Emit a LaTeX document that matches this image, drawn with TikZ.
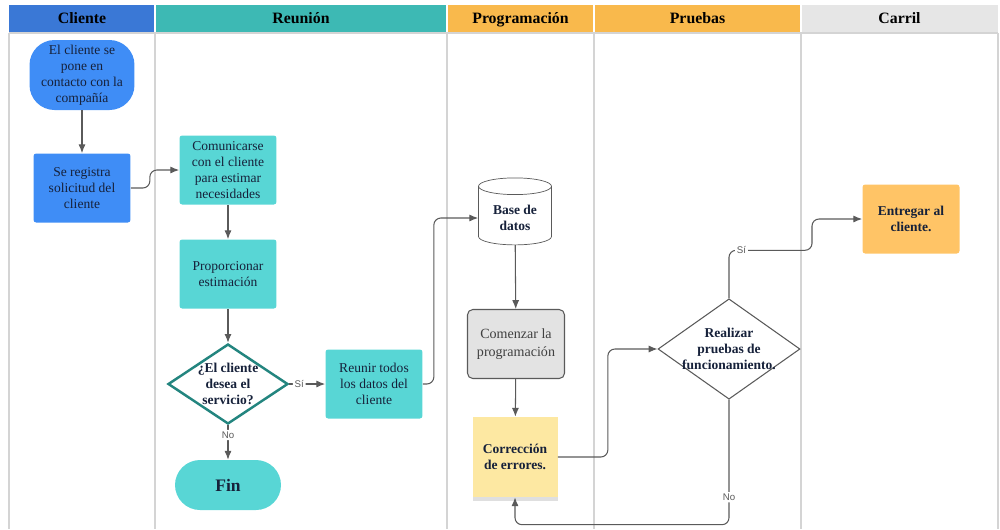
\documentclass[tikz,border=0pt]{standalone}
\usepackage{fontspec}
\setmainfont{Liberation Serif}
\setsansfont{Liberation Sans}
\usetikzlibrary{shapes.geometric,arrows.meta,shadows}

\definecolor{hcliente}{HTML}{3A78D6}
\definecolor{hreunion}{HTML}{3DB9B4}
\definecolor{hprog}{HTML}{F9B94C}
\definecolor{hcarril}{HTML}{E6E6E6}
\definecolor{azul}{HTML}{3F8DF6}
\definecolor{turquesa}{HTML}{58D6D5}
\definecolor{borde}{HTML}{23857F}
\definecolor{gris}{HTML}{E3E3E3}
\definecolor{amarillo}{HTML}{FDE8A2}
\definecolor{naranja}{HTML}{FFC466}
\definecolor{linea}{HTML}{5A5A5A}
\definecolor{carril}{HTML}{D4D4D4}
\definecolor{texto}{HTML}{16213A}

\begin{document}
\begin{tikzpicture}[x=0.02cm,y=-0.02cm,
    font=\fontsize{7.7}{9.2}\selectfont,text=texto,
    flow/.style={-{Latex[length=5pt,width=4pt]},draw=linea,line width=0.6pt,rounded corners=4pt},
    lbl/.style={font=\sffamily\fontsize{5.5}{6}\selectfont,text=linea,fill=white,inner sep=1pt},
    box/.style={rectangle,rounded corners=1.5pt,minimum width=1.94cm,minimum height=1.38cm,
      align=center,inner sep=2pt},
    clientebox/.style={box,fill=azul},
    reunionbox/.style={box,fill=turquesa},
    terminal/.style={rectangle,rounded corners=0.5cm,align=center,inner sep=2pt},
    decision/.style={diamond,draw,fill=white,align=center,inner sep=-5pt,
      minimum width=2.4cm,minimum height=1.6cm,font=\bfseries\fontsize{7.7}{9.2}\selectfont},
    lanehead/.style={font=\bfseries\fontsize{9}{10}\selectfont,text=black,text height=7pt,text depth=2pt}]

  \useasboundingbox (0,0) rectangle (1000,529);

  % carriles
  \foreach \xa/\xb/\col/\txt [count=\i] in {9/155/hcliente/Cliente,155/447/hreunion/Reunión,
      447/594/hprog/Programación,594/801/hprog/Pruebas,801/998/hcarril/Carril} {
    \fill[\col] (\xa,5) rectangle (\xb,33);
    \draw[carril,line width=0.6pt] (\xa,33) -- (\xa,529);
    \node[lanehead] (lane\i) at ({(\xa+\xb)/2},19) {\txt};
  }
  \draw[white,line width=0.8pt] (155,5) -- (155,33) (447,5) -- (447,33) (594,5) -- (594,33) (801,5) -- (801,33);
  \draw[carril,line width=0.6pt] (9,33) -- (998,33) (998,33) -- (998,529);

  \node[terminal,fill=azul,minimum width=2.1cm,minimum height=1.4cm] (contacto) at (82,75)
    {El cliente se\\pone en\\contacto con la\\compañía};
  \node[clientebox] (registro) at (82,188) {Se registra\\solicitud del\\cliente};
  \node[reunionbox] (comunicar) at (228,170) {Comunicarse\\con el cliente\\para estimar\\necesidades};
  \node[reunionbox] (estimacion) at (228,274) {Proporcionar\\estimación};
  \node[decision,draw=borde,line width=1.4pt] (desea) at (228,384) {¿El cliente\\desea el\\servicio?};
  \node[terminal,fill=turquesa,minimum width=2.12cm,minimum height=1cm,
    font=\bfseries\fontsize{10}{12}\selectfont] (fin) at (228,485) {Fin};
  \node[reunionbox] (reunir) at (374,384) {Reunir todos\\los datos del\\cliente};
  \node[cylinder,shape border rotate=90,aspect=0.3,draw=linea,fill=white,minimum width=1.46cm,
    minimum height=1.34cm,align=center,font=\bfseries\fontsize{7.7}{9.2}\selectfont] (datos) at (515,218)
    {Base de\\datos};
  \node[box,fill=gris,draw=linea,line width=0.6pt,rounded corners=3pt,text=black!75,
    font=\fontsize{8}{10}\selectfont] (comenzar) at (516,344) {Comenzar la\\programación};
  \node[box,rounded corners=0pt,fill=amarillo,minimum width=1.7cm,minimum height=1.6cm,
    font=\bfseries\fontsize{7.7}{9.2}\selectfont,
    drop shadow={shadow xshift=0pt,shadow yshift=-2pt,opacity=0.25}] (correccion) at (515,457)
    {Corrección\\de errores.};
  \node[decision,draw=linea,line width=0.6pt,minimum width=2.84cm,minimum height=1.86cm] (pruebas) at (729,349)
    {Realizar\\pruebas de\\funcionamiento.};
  \node[box,fill=naranja,font=\bfseries\fontsize{7.7}{9.2}\selectfont] (entregar) at (911,219) {Entregar al\\cliente.};

  \draw[flow] (contacto) -- (registro);
  \draw[flow] (registro.east) -- ++(19,0) |- (comunicar.west);
  \draw[flow] (comunicar) -- (estimacion);
  \draw[flow] (estimacion) -- (desea);
  \draw[flow] (desea) -- node[lbl,pos=0.28] {Sí} (reunir);
  \draw[flow] (desea) -- node[lbl,pos=0.28] {No} (fin);
  \draw[flow] (reunir.east) -- ++(11,0) |- (datos.west);
  \draw[flow] (datos) -- (comenzar);
  \draw[flow] (comenzar) -- (correccion);
  \draw[flow] (correccion.east) -- ++(50,0) |- (pruebas.west);
  \draw[flow] (pruebas.north) -- ++(0,-48) -- node[lbl,pos=0.15] {Sí} ++(83,0) |- (entregar.west);
  \draw[flow] (pruebas.south) -- node[lbl,pos=0.78] {No} ++(0,125) -| (correccion.south);

\end{tikzpicture}
\end{document}
